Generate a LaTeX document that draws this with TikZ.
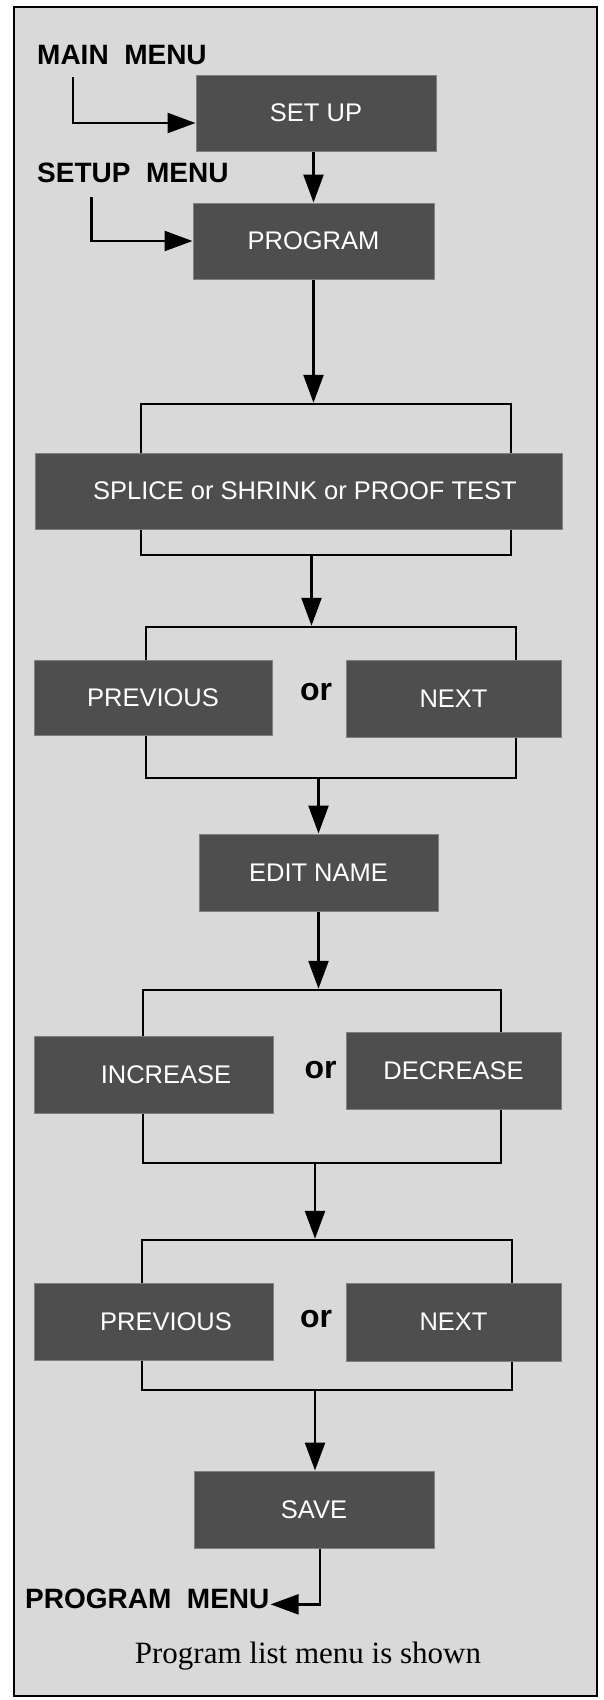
\documentclass[tikz,border=0pt]{standalone}
\usepackage{fontspec}
\setmainfont{Liberation Serif}
\setsansfont{Liberation Sans}
\usetikzlibrary{arrows.meta, positioning}
\definecolor{boxgray}{RGB}{78,78,78}
\definecolor{panel}{RGB}{217,217,217}

\begin{document}
\begin{tikzpicture}[
    x=1pt, y=-1pt,
    box/.style={draw=gray, line width=1pt, fill=boxgray, text=white, minimum height=76pt, inner sep=0pt, font=\sffamily\fontsize{25.5}{30}\selectfont},
    choice/.style={draw, line width=2.5pt, inner sep=0pt},
    menu/.style={inner sep=0pt, anchor=base west, font=\sffamily\bfseries\fontsize{28}{32}\selectfont},
    orlabel/.style={inner sep=0pt, anchor=base, font=\sffamily\bfseries\fontsize{32}{36}\selectfont},
    arrow/.style={-{Triangle[length=28pt, width=20pt]}, line width=2.5pt}
]
\useasboundingbox (0,0) rectangle (604,1700);
\fill[white] (0,0) rectangle (604,1700);
\draw[line width=2.5pt, fill=panel] (14,7) rectangle (597,1696);

% option brackets first, boxes go on top
\node[choice, minimum width=370pt, minimum height=151pt] (choice1) at (326,479.5) {};
\node[choice, minimum width=370pt, minimum height=151pt] (choice2) at (331,702.5) {};
\node[choice, minimum width=358pt, minimum height=173pt] (choice3) at (322,1076.5) {};
\node[choice, minimum width=370pt, minimum height=150pt] (choice4) at (327,1315) {};

\node[box, minimum width=240pt] (setup) at (316,113) {SET UP};
\node[box, minimum width=241pt] (program) at (313.5,241) {PROGRAM};
\node[box, minimum width=527pt] (splice) at (299,491) {\hspace*{12pt}SPLICE or SHRINK or PROOF TEST};
\node[box, minimum width=238pt, minimum height=75pt] (prev1) at (153,697.5) {PREVIOUS};
\node[box, minimum width=215pt, minimum height=77pt] (next1) at (453.5,698.5) {NEXT};
\node[orlabel] (or1) at (316,700) {or};
\node[box, minimum width=239pt, minimum height=77pt] (editname) at (318.5,872.5) {EDIT NAME};
\node[box, minimum width=239pt, minimum height=77pt] (inc) at (153.5,1074.5) {\hspace*{25pt}INCREASE};
\node[box, minimum width=215pt, minimum height=77pt] (dec) at (453.5,1070.5) {DECREASE};
\node[orlabel] (or2) at (320.5,1078) {or};
\node[box, minimum width=239pt, minimum height=77pt] (prev2) at (153.5,1321.5) {\hspace*{25pt}PREVIOUS};
\node[box, minimum width=215pt, minimum height=78pt] (next2) at (453.5,1322) {NEXT};
\node[orlabel] (or3) at (316,1327) {or};
\node[box, minimum width=240pt, minimum height=77pt] (save) at (314,1509.5) {SAVE};

\node[menu] (mainmenu) at (37,64) {MAIN\ \ MENU};
\node[menu] (setupmenu) at (37,182) {SETUP\ \ MENU};
\node[menu] (progmenu) at (25,1608) {PROGRAM\ \ MENU};
\node[font=\fontsize{31}{36}\selectfont, anchor=base, inner sep=0pt] (note) at (308,1663) {Program list menu is shown};

\draw[arrow] ([xshift=36pt,yshift=-13pt]mainmenu.south west) |- ([yshift=-10pt]setup.west);
\draw[arrow] ([xshift=54.5pt,yshift=-15pt]setupmenu.south west) |- (program.west);
\draw[arrow] (program.north |- setup.south) -- (program.north);
\draw[arrow] (program.south) -- (program.south |- choice1.north);
\draw[arrow] ([xshift=-2pt]program.south |- choice1.south) -- ([xshift=-2pt]program.south |- choice2.north);
\draw[arrow] (editname.north |- choice2.south) -- (editname.north);
\draw[arrow] (editname.south) -- (editname.south |- choice3.north);
\draw[arrow] ([xshift=1pt]save.north |- choice3.south) -- ([xshift=1pt]save.north |- choice4.north);
\draw[arrow] ([xshift=1pt]save.north |- choice4.south) -- ([xshift=1pt]save.north);
\draw[arrow] ([xshift=6pt]save.south) |- ([xshift=1pt,yshift=-6pt]progmenu.east);
\end{tikzpicture}
\end{document}
